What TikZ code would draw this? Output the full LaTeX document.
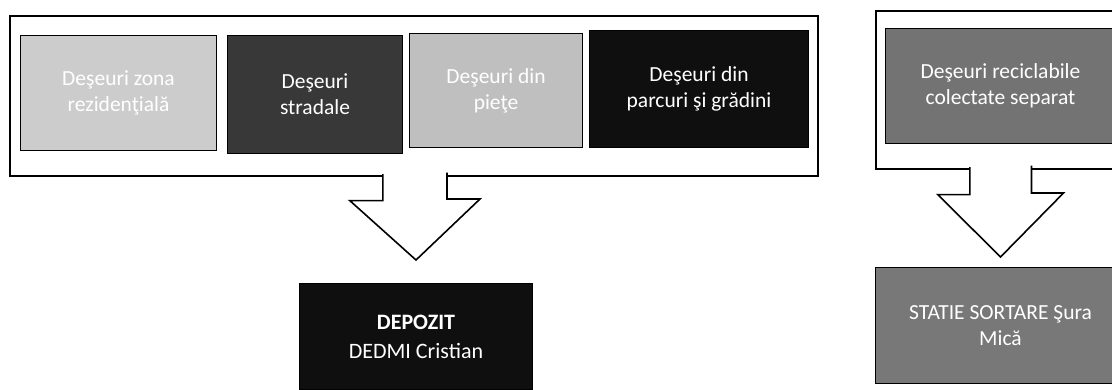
\documentclass[tikz,border=0pt]{standalone}
\usepackage{fontspec}
\setmainfont{Carlito}
\usetikzlibrary{positioning}

\definecolor{palewaste}{gray}{0.80}
\definecolor{streetwaste}{gray}{0.22}
\definecolor{marketwaste}{gray}{0.75}
\definecolor{parkwaste}{gray}{0.06}
\definecolor{recyclewaste}{gray}{0.45}
\definecolor{sortwaste}{gray}{0.47}

\tikzset{
	wastebox/.style={draw=black, line width=1pt, text=white, align=center, anchor=north west,
		inner sep=0pt, font=\fontsize{21.5}{26}\selectfont},
	groupframe/.style={draw=black, line width=1.6pt, anchor=north west, inner sep=0pt},
	blockarrow/.style={fill=white, draw=black, line width=1.6pt, line join=miter},
}

\begin{document}
\begin{tikzpicture}[x=1pt,y=-1pt]
	\useasboundingbox (0,0) rectangle (1112,389);
	
	% LEFT GROUP
	
	\node [groupframe, minimum width=808pt, minimum height=160pt] at (9,15) (leftframe) {};
	
	\node [wastebox, fill=palewaste, minimum width=196pt, minimum height=115pt] at (20,35) (rez) {Deşeuri zona\\rezidenţială};
	\node [wastebox, fill=streetwaste, minimum width=175pt, minimum height=118pt] at (227,35) (strad) {Deşeuri\\stradale};
	\node [wastebox, fill=marketwaste, minimum width=173pt, minimum height=114pt] at (409,33) (piete) {Deşeuri din\\pieţe};
	\node [wastebox, fill=parkwaste, minimum width=219pt, minimum height=117pt] at (589,30) (parc) {Deşeuri din\\parcuri şi grădini};
	
	\node [wastebox, fill=parkwaste, minimum width=233pt, minimum height=106pt,
		font=\fontsize{22}{29}\selectfont] at (299,283) (depot) {\textbf{DEPOZIT}\\DEDMI Cristian};
	
	% Down arrow
	\coordinate [above = 23pt of depot.north] (tipL);
	\draw [blockarrow] ([xshift=-31pt,yshift=2.5pt]leftframe.south) -- ++(0,26.5) -- ++(-33,0) -- (tipL)
		-- ++(64,-61) -- ++(-33,0) -- ++(0,-26.5);
	
	% RIGHT GROUP
	
	\node [groupframe, minimum width=250pt, minimum height=158pt] at (875,10) (rightframe) {};
	
	\node [wastebox, fill=recyclewaste, minimum width=230pt, minimum height=115pt] at (885,28) (recic) {Deşeuri reciclabile\\colectate separat};
	
	\node [wastebox, fill=sortwaste, minimum width=250pt, minimum height=116pt] at (875,267) (sort) {STATIE SORTARE Şura\\Mică};
	
	% Down arrow
	\coordinate [above = 10pt of sort.north] (tipR);
	\draw [blockarrow] ([xshift=-31pt,yshift=2.5pt]rightframe.south) -- ++(0,27.5) -- ++(-32,0) -- (tipR)
		-- ++(63,-64) -- ++(-32,0) -- ++(0,-27.5);
	
\end{tikzpicture}
\end{document}
